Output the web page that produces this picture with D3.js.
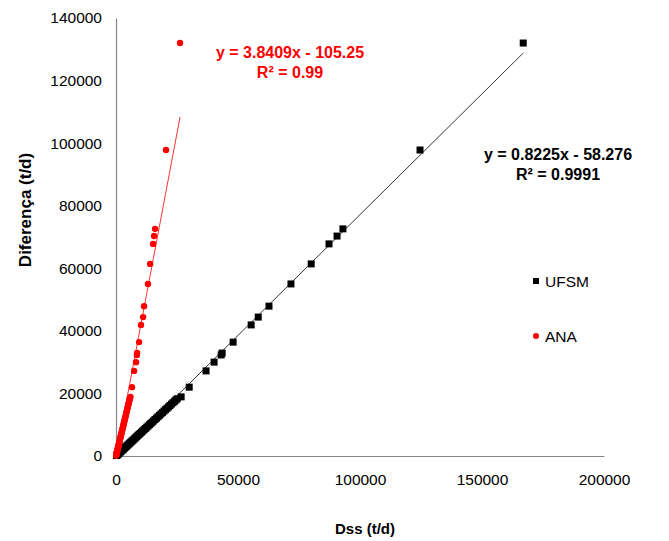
<!DOCTYPE html>
<html lang="pt">
<head>
  <meta charset="UTF-8">
  <title>Diferença x Dss</title>
  <script src="https://d3js.org/d3.v7.min.js"></script>
  <style>
    body { margin: 0; background: #fff; }
    text { font-family: "Liberation Sans", Arial, sans-serif; }
  </style>
</head>
<body>

<script>
  // UFSM series (Dss, Diferença)
  const ufsmDss = [205, 385, 550, 755, 960, 1165, 1370, 1645, 1920, 2195, 2470, 2810, 3150, 3495,
    3840, 4180, 4520, 4930, 5340, 5750, 6160, 6575, 6990, 7470, 7950, 8425, 8900, 9380, 9860, 10410,
    10960, 11505, 12050, 12600, 13150, 13700, 14250, 14795, 15340, 15960, 16580, 17195, 17810, 18425,
    19040, 19655, 20270, 20890, 21510, 22125, 22740, 23355, 23970, 24520, 25070,
    26700, 30000, 36900, 40200, 43100, 43500, 48000, 55400, 58300, 62700, 71700, 80000, 87300, 90600,
    93000, 124600, 166900];
  const ufsmDif = [150, 280, 400, 550, 700, 850, 1000, 1200, 1400, 1600, 1800, 2050, 2300, 2550,
    2800, 3050, 3300, 3600, 3900, 4200, 4500, 4800, 5100, 5450, 5800, 6150, 6500, 6850, 7200, 7600,
    8000, 8400, 8800, 9200, 9600, 10000, 10400, 10800, 11200, 11650, 12100, 12550, 13000, 13450,
    13900, 14350, 14800, 15250, 15700, 16150, 16600, 17050, 17500, 17900, 18300,
    18900, 22000, 27200, 30000, 32300, 32900, 36400, 41900, 44400, 47900, 55000, 61400, 67800, 70300,
    72600, 97800, 132000];

  // ANA series
  const anaDss = [46, 86, 123, 169, 215, 262, 308, 369, 431, 492, 554, 631, 708, 785,
    862, 938, 1015, 1108, 1200, 1292, 1385, 1477, 1569, 1677, 1785, 1892, 2000, 2108, 2215, 2338,
    2462, 2585, 2708, 2831, 2954, 3077, 3200, 3323, 3446, 3585, 3723, 3862, 4000, 4138,
    4277, 4415, 4554, 4692, 4831, 4969, 5108, 5246, 5385, 5508, 5630,
    5950, 6550, 7400, 8200, 8550, 8650, 9450, 10250, 11100, 11500, 13100, 14000, 15200, 15600,
    16000, 20500, 26250];
  const anaDif = [150, 280, 400, 550, 700, 850, 1000, 1200, 1400, 1600, 1800, 2050, 2300, 2550,
    2800, 3050, 3300, 3600, 3900, 4200, 4500, 4800, 5100, 5450, 5800, 6150, 6500, 6850, 7200, 7600,
    8000, 8400, 8800, 9200, 9600, 10000, 10400, 10800, 11200, 11650, 12100, 12550, 13000, 13450,
    13900, 14350, 14800, 15250, 15700, 16150, 16600, 17050, 17500, 17900, 18300,
    18900, 22000, 27200, 30000, 32300, 32900, 36400, 41900, 44400, 47900, 55000, 61400, 67800, 70300,
    72600, 97800, 132000];

  // trend lines (start, end)
  const ufsmTrendX = [0, 166900];
  const ufsmTrendY = [-58, 128800];
  const anaTrendX = [0, 26250];
  const anaTrendY = [-105, 108350];

  const xTicks = [0, 50000, 100000, 150000, 200000];
  const yTicks = [0, 20000, 40000, 60000, 80000, 100000, 120000, 140000];

  const width = 669, height = 541;

  const svg = d3.select("body").append("svg")
    .attr("width", width)
    .attr("height", height);

  const x = d3.scaleLinear().domain([0, 200000]).range([116, 604]);
  const y = d3.scaleLinear().domain([0, 140000]).range([456, 18]);

  // axes
  const xAxis = svg.append("g")
    .attr("transform", "translate(0,456)")
    .call(d3.axisBottom(x).tickValues(xTicks).tickFormat(d3.format("d"))
      .tickSize(0).tickPadding(18));
  const yAxis = svg.append("g")
    .attr("transform", "translate(116,0)")
    .call(d3.axisLeft(y).tickValues(yTicks).tickFormat(d3.format("d"))
      .tickSize(0).tickPadding(14));

  [xAxis, yAxis].forEach(a => {
    a.select(".domain").attr("stroke", "#868686").attr("stroke-width", 1.2);
    a.selectAll("text").style("font-size", "15.5px").attr("fill", "#000")
      .style("font-family", "'Liberation Sans', Arial, sans-serif");
  });

  // axis titles
  svg.append("text")
    .attr("x", 365)
    .attr("y", 534)
    .style("text-anchor", "middle")
    .style("font-size", "15px")
    .style("font-weight", "bold")
    .text("Dss (t/d)");

  svg.append("text")
    .attr("transform", "translate(31,210) rotate(-90)")
    .style("text-anchor", "middle")
    .style("font-size", "17px")
    .style("font-weight", "bold")
    .text("Diferença (t/d)");

  // trend lines
  const line = d3.line().x(d => x(d[0])).y(d => y(d[1]));

  svg.append("path")
    .datum(d3.zip(ufsmTrendX, ufsmTrendY))
    .attr("d", line)
    .attr("fill", "none")
    .attr("stroke", "#000")
    .attr("stroke-width", 0.8);

  svg.append("path")
    .datum(d3.zip(anaTrendX, anaTrendY))
    .attr("d", line)
    .attr("fill", "none")
    .attr("stroke", "#ff0000")
    .attr("stroke-width", 0.8);

  // points
  const sq = 7;
  svg.append("g").selectAll("rect")
    .data(d3.zip(ufsmDss, ufsmDif))
    .enter().append("rect")
    .attr("x", d => x(d[0]) - sq / 2)
    .attr("y", d => y(d[1]) - sq / 2)
    .attr("width", sq)
    .attr("height", sq)
    .attr("fill", "#000");

  svg.append("g").selectAll("circle")
    .data(d3.zip(anaDss, anaDif))
    .enter().append("circle")
    .attr("cx", d => x(d[0]))
    .attr("cy", d => y(d[1]))
    .attr("r", 3.2)
    .attr("fill", "#ff0000");

  // equations
  const eq = [
    { lines: ["y = 3.8409x - 105.25", "R² = 0.99"], cx: 290, y0: 58, color: "#ff0000" },
    { lines: ["y = 0.8225x - 58.276", "R² = 0.9991"], cx: 558, y0: 160, color: "#000" }
  ];
  eq.forEach(e => {
    e.lines.forEach((t, i) => {
      svg.append("text")
        .attr("x", e.cx)
        .attr("y", e.y0 + i * 20)
        .style("text-anchor", "middle")
        .style("font-size", "16px")
        .style("font-weight", "bold")
        .attr("fill", e.color)
        .text(t);
    });
  });

  // legend
  const legend = svg.append("g");
  legend.append("rect")
    .attr("x", 533).attr("y", 278)
    .attr("width", 6).attr("height", 6)
    .attr("fill", "#000");
  legend.append("text")
    .attr("x", 545).attr("y", 287)
    .style("font-size", "15.5px")
    .text("UFSM");
  legend.append("circle")
    .attr("cx", 536).attr("cy", 336)
    .attr("r", 3)
    .attr("fill", "#ff0000");
  legend.append("text")
    .attr("x", 545).attr("y", 342)
    .style("font-size", "15.5px")
    .text("ANA");
</script>

</body>
</html>
